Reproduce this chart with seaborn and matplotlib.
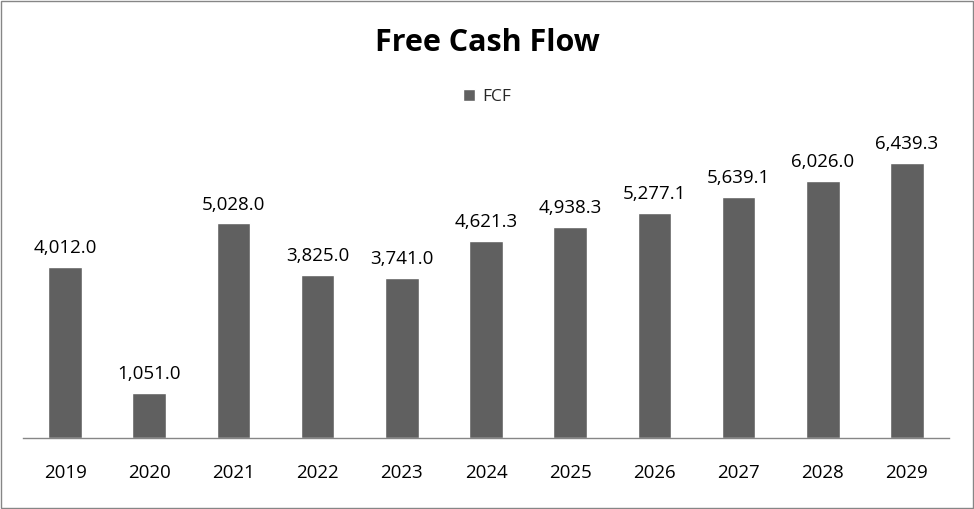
import matplotlib
matplotlib.use("Agg")
import matplotlib.pyplot as plt
import seaborn as sns
import pandas as pd

years = ["2019", "2020", "2021", "2022", "2023", "2024", "2025", "2026", "2027", "2028", "2029"]
fcf = [4012.0, 1051.0, 5028.0, 3825.0, 3741.0, 4621.3, 4938.3, 5277.1, 5639.1, 6026.0, 6439.3]

df = pd.DataFrame({"Year": years, "FCF": fcf})

sns.set_theme(style="white")
plt.rcParams["font.family"] = ["Open Sans", "DejaVu Sans"]

fig = plt.figure(figsize=(9.74, 5.09), dpi=100)
ax = fig.add_axes([23/974, 1 - 438/509, (949-23)/974, (438-139)/509])

sns.barplot(data=df, x="Year", y="FCF", color="#606060", saturation=1, width=0.4, ax=ax, label="FCF")
ax.set_ylim(0, 7000)
ax.set_xlim(-0.5, len(years) - 0.5)
for i, v in enumerate(fcf):
    ax.annotate(f"{v:,.1f}", (i, v), xytext=(0, 7), textcoords="offset points",
                ha="center", va="bottom", fontsize=13.5, color="#000000")

for s in ["top", "right", "left"]:
    ax.spines[s].set_visible(False)
ax.spines["bottom"].set_color("#868686")
ax.spines["bottom"].set_linewidth(1)
ax.set_yticks([])
ax.set_xlabel("")
ax.set_ylabel("")
ax.tick_params(axis="x", length=0, pad=19, labelsize=13.5, colors="#000000")

fig.text(0.5, 1 - 43/509, "Free Cash Flow", ha="center", va="center", fontsize=22, fontweight="bold", color="#000000")
leg = ax.legend(loc="center", bbox_to_anchor=(0.5, 1 - 97/509), bbox_transform=fig.transFigure,
                frameon=False, fontsize=12.5, handlelength=0.7, handleheight=0.7, handletextpad=0.4)

fig.patches.append(plt.Rectangle((0.5/974, 1/509), 1 - 2/974, 1 - 2/509, transform=fig.transFigure,
                                 fill=False, edgecolor="#868686", linewidth=1))
fig.savefig("out.png", dpi=100)
